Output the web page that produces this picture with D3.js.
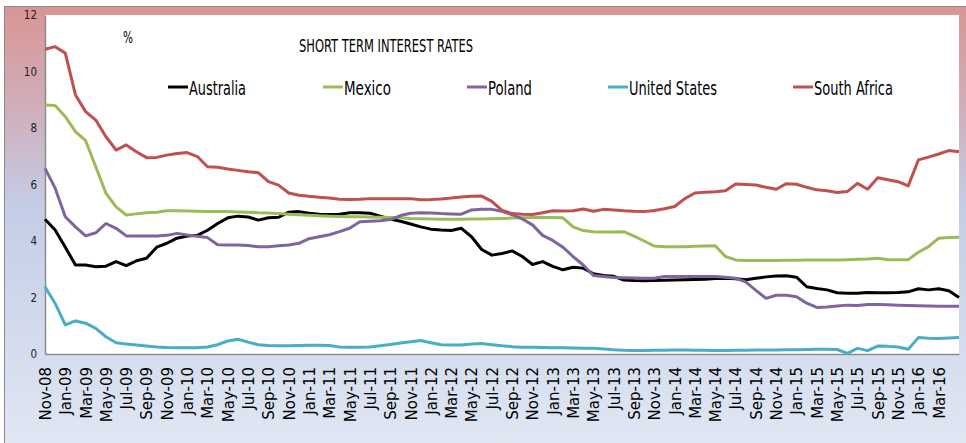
<!DOCTYPE html>
<html>
<head>
<meta charset="utf-8">
<script src="https://cdn.jsdelivr.net/npm/d3@7"></script>
<style>
    html, body { margin: 0; padding: 0; background: #ffffff; }
    svg { display: block; }
</style>
</head>
<body>
<div id="chart"></div>
<script>
// Short term interest rates, monthly Nov-08 .. May-16

const months = [
    'Nov-08', 'Dec-08',
    'Jan-09', 'Feb-09', 'Mar-09', 'Apr-09', 'May-09', 'Jun-09', 'Jul-09', 'Aug-09', 'Sep-09', 'Oct-09', 'Nov-09', 'Dec-09',
    'Jan-10', 'Feb-10', 'Mar-10', 'Apr-10', 'May-10', 'Jun-10', 'Jul-10', 'Aug-10', 'Sep-10', 'Oct-10', 'Nov-10', 'Dec-10',
    'Jan-11', 'Feb-11', 'Mar-11', 'Apr-11', 'May-11', 'Jun-11', 'Jul-11', 'Aug-11', 'Sep-11', 'Oct-11', 'Nov-11', 'Dec-11',
    'Jan-12', 'Feb-12', 'Mar-12', 'Apr-12', 'May-12', 'Jun-12', 'Jul-12', 'Aug-12', 'Sep-12', 'Oct-12', 'Nov-12', 'Dec-12',
    'Jan-13', 'Feb-13', 'Mar-13', 'Apr-13', 'May-13', 'Jun-13', 'Jul-13', 'Aug-13', 'Sep-13', 'Oct-13', 'Nov-13', 'Dec-13',
    'Jan-14', 'Feb-14', 'Mar-14', 'Apr-14', 'May-14', 'Jun-14', 'Jul-14', 'Aug-14', 'Sep-14', 'Oct-14', 'Nov-14', 'Dec-14',
    'Jan-15', 'Feb-15', 'Mar-15', 'Apr-15', 'May-15', 'Jun-15', 'Jul-15', 'Aug-15', 'Sep-15', 'Oct-15', 'Nov-15', 'Dec-15',
    'Jan-16', 'Feb-16', 'Mar-16', 'Apr-16', 'May-16'
];

const australia = [
    4.77, 4.39, 3.78, 3.15, 3.15, 3.09, 3.11, 3.27, 3.13, 3.30,
    3.39, 3.78, 3.92, 4.10, 4.18, 4.20, 4.38, 4.62, 4.82, 4.88,
    4.85, 4.74, 4.82, 4.84, 5.02, 5.04, 4.98, 4.95, 4.94, 4.95,
    5.00, 5.00, 4.98, 4.88, 4.78, 4.70, 4.60, 4.50, 4.42, 4.39,
    4.37, 4.45, 4.15, 3.70, 3.50, 3.56, 3.65, 3.45, 3.17, 3.27,
    3.10, 2.98, 3.07, 3.04, 2.84, 2.78, 2.75, 2.62, 2.60, 2.59,
    2.60, 2.61, 2.62, 2.63, 2.64, 2.65, 2.67, 2.68, 2.66, 2.63,
    2.68, 2.73, 2.76, 2.77, 2.72, 2.38, 2.32, 2.27, 2.17, 2.15,
    2.15, 2.18, 2.17, 2.17, 2.18, 2.20, 2.31, 2.27, 2.31, 2.24,
    2.00
];

const mexico = [
    8.81, 8.80, 8.40, 7.87, 7.55, 6.63, 5.69, 5.21, 4.92, 4.96,
    5.00, 5.02, 5.07, 5.07, 5.06, 5.05, 5.04, 5.04, 5.04, 5.03,
    5.02, 5.00, 4.99, 4.97, 4.95, 4.93, 4.91, 4.89, 4.88, 4.87,
    4.86, 4.86, 4.85, 4.84, 4.83, 4.82, 4.80, 4.79, 4.78, 4.77,
    4.77, 4.77, 4.78, 4.78, 4.79, 4.80, 4.81, 4.82, 4.83, 4.83,
    4.83, 4.82, 4.50, 4.37, 4.33, 4.32, 4.32, 4.33, 4.17, 4.00,
    3.82, 3.80, 3.80, 3.80, 3.81, 3.82, 3.83, 3.45, 3.33, 3.31,
    3.31, 3.31, 3.31, 3.32, 3.32, 3.33, 3.33, 3.33, 3.33, 3.34,
    3.35, 3.36, 3.39, 3.34, 3.34, 3.34, 3.60, 3.80, 4.10, 4.12,
    4.13
];

const poland = [
    6.57, 5.87, 4.86, 4.50, 4.18, 4.29, 4.62, 4.45, 4.18, 4.18,
    4.18, 4.18, 4.20, 4.27, 4.21, 4.17, 4.12, 3.87, 3.86, 3.86,
    3.84, 3.80, 3.80, 3.83, 3.86, 3.92, 4.08, 4.15, 4.22, 4.33,
    4.45, 4.68, 4.70, 4.72, 4.76, 4.90, 4.98, 5.00, 4.99, 4.97,
    4.96, 4.95, 5.10, 5.12, 5.12, 5.05, 4.93, 4.78, 4.57, 4.20,
    4.02, 3.78, 3.45, 3.15, 2.78, 2.74, 2.71, 2.70, 2.69, 2.68,
    2.68, 2.74, 2.74, 2.74, 2.74, 2.74, 2.74, 2.72, 2.68, 2.55,
    2.25, 1.97, 2.08, 2.08, 2.03, 1.80, 1.65, 1.66, 1.70, 1.73,
    1.72, 1.75, 1.75, 1.74, 1.73, 1.72, 1.71, 1.70, 1.69, 1.69,
    1.69
];

const unitedStates = [
    2.38, 1.79, 1.03, 1.17, 1.09, 0.91, 0.61, 0.40, 0.35, 0.32,
    0.28, 0.25, 0.23, 0.22, 0.22, 0.22, 0.25, 0.33, 0.46, 0.52,
    0.42, 0.33, 0.30, 0.29, 0.29, 0.30, 0.31, 0.31, 0.30, 0.25,
    0.24, 0.24, 0.25, 0.29, 0.34, 0.39, 0.43, 0.48, 0.40, 0.33,
    0.32, 0.32, 0.35, 0.37, 0.33, 0.29, 0.26, 0.24, 0.24, 0.23,
    0.22, 0.22, 0.21, 0.20, 0.20, 0.18, 0.15, 0.13, 0.12, 0.12,
    0.13, 0.13, 0.14, 0.14, 0.13, 0.13, 0.12, 0.12, 0.13, 0.13,
    0.14, 0.14, 0.14, 0.15, 0.15, 0.16, 0.17, 0.17, 0.16, 0.02,
    0.20, 0.12, 0.28, 0.27, 0.25, 0.17, 0.58, 0.56, 0.55, 0.57,
    0.58
];

const southAfrica = [
    10.79, 10.88, 10.65, 9.17, 8.58, 8.28, 7.69, 7.22, 7.40, 7.16,
    6.95, 6.96, 7.04, 7.10, 7.13, 6.99, 6.63, 6.61, 6.55, 6.50,
    6.45, 6.42, 6.10, 5.98, 5.70, 5.62, 5.58, 5.55, 5.52, 5.48,
    5.47, 5.48, 5.50, 5.50, 5.50, 5.50, 5.50, 5.46, 5.47, 5.49,
    5.52, 5.56, 5.58, 5.59, 5.40, 5.08, 4.97, 4.95, 4.94, 5.00,
    5.07, 5.06, 5.07, 5.13, 5.05, 5.12, 5.10, 5.07, 5.05, 5.04,
    5.08, 5.14, 5.22, 5.50, 5.70, 5.73, 5.74, 5.78, 6.02, 6.00,
    5.98, 5.90, 5.83, 6.03, 6.01, 5.90, 5.81, 5.78, 5.72, 5.75,
    6.04, 5.83, 6.24, 6.17, 6.10, 5.95, 6.87, 6.97, 7.08, 7.20,
    7.16
];

const seriesNames = ['Australia', 'Mexico', 'Poland', 'United States', 'South Africa'];
const seriesColors = ['#000000', '#9bbb59', '#8064a2', '#4bacc6', '#c0504d'];
const yTicks = [0, 2, 4, 6, 8, 10, 12];
// every second month is labelled, the last label shown is Mar-16
const xTickLabels = months.slice(0, 89).filter((m, i) => i % 2 === 0);

/**
 * Draw the interest rate chart
 * @param {string} containerId - Container element ID
 */
function renderRatesChart(containerId) {
    const W = 966;
    const H = 443;
    const plot = { left: 45, top: 15, right: 959, bottom: 354 };
    const axisColor = '#8c8c8c';

    const svg = d3.select(`#${containerId}`)
        .append('svg')
        .attr('width', W)
        .attr('height', H);

    // Background gradient of the chart frame
    const grad = svg.append('defs')
        .append('linearGradient')
        .attr('id', 'frameGrad')
        .attr('x1', 0).attr('y1', 0)
        .attr('x2', 0).attr('y2', 1);
    [['0%', '#d99594'], ['22%', '#d0adb9'], ['45%', '#c4cde6'], ['100%', '#e1e7f3']]
        .forEach(s => grad.append('stop').attr('offset', s[0]).attr('stop-color', s[1]));

    svg.append('rect')
        .attr('x', 4.5)
        .attr('y', 6.5)
        .attr('width', W)
        .attr('height', H)
        .attr('fill', 'url(#frameGrad)')
        .attr('stroke', '#8a8a8a')
        .attr('stroke-width', 1);

    // Plot area
    svg.append('rect')
        .attr('x', plot.left)
        .attr('y', plot.top)
        .attr('width', plot.right - plot.left)
        .attr('height', plot.bottom - plot.top)
        .attr('fill', '#ffffff');

    // Scales
    const xScale = d3.scalePoint()
        .domain(months)
        .range([plot.left, plot.right]);

    const yScale = d3.scaleLinear()
        .domain([0, 12])
        .range([plot.bottom, plot.top]);

    // Y axis
    const yAxis = svg.append('g')
        .attr('transform', `translate(${plot.left}, 0)`)
        .call(d3.axisLeft(yScale)
            .tickValues(yTicks)
            .tickSize(0)
            .tickPadding(8)
        );
    yAxis.select('.domain')
        .attr('stroke', axisColor)
        .attr('stroke-width', 1.5);
    yAxis.selectAll('text')
        .attr('fill', '#222')
        .style('font-family', '"Liberation Sans Narrow", "DejaVu Sans Condensed", sans-serif')
        .style('font-size', '11.5px');

    // X axis
    const xAxis = svg.append('g')
        .attr('transform', `translate(0, ${plot.bottom})`)
        .call(d3.axisBottom(xScale)
            .tickValues(xTickLabels)
            .tickSize(0)
        );
    xAxis.select('.domain')
        .attr('stroke', axisColor)
        .attr('stroke-width', 1.5);
    xAxis.selectAll('text')
        .attr('transform', 'rotate(-90)')
        .attr('x', -13)
        .attr('y', 0)
        .attr('dy', '0.36em')
        .style('text-anchor', 'end')
        .attr('fill', '#000')
        .style('font-family', '"DejaVu Sans", Verdana, sans-serif')
        .style('font-size', '15px');

    // Series lines
    const allSeries = [australia, mexico, poland, unitedStates, southAfrica];
    const line = d3.line()
        .x((d, i) => xScale(months[i]))
        .y(d => yScale(d));

    allSeries.forEach((values, k) => {
        svg.append('path')
            .datum(values)
            .attr('fill', 'none')
            .attr('stroke', seriesColors[k])
            .attr('stroke-width', 3)
            .attr('stroke-linejoin', 'round')
            .attr('d', line);
    });

    // Title and unit
    const narrow = '"Liberation Sans Narrow", "DejaVu Sans Condensed", sans-serif';

    svg.append('text')
        .attr('x', 299)
        .attr('y', 52)
        .attr('textLength', 174)
        .attr('lengthAdjust', 'spacingAndGlyphs')
        .attr('fill', '#000')
        .style('font-family', narrow)
        .style('font-size', '18px')
        .text('SHORT TERM INTEREST RATES');

    svg.append('text')
        .attr('x', 123)
        .attr('y', 43)
        .attr('textLength', 10)
        .attr('lengthAdjust', 'spacingAndGlyphs')
        .attr('fill', '#000')
        .style('font-family', narrow)
        .style('font-size', '16px')
        .text('%');

    // Legend
    const legendX = [168, 323, 467, 608, 793];
    const legendTextWidth = [57, 47, 44, 88, 79];
    const legendY = 87;

    const legend = svg.append('g').attr('class', 'legend');

    seriesNames.forEach((name, k) => {
        legend.append('line')
            .attr('x1', legendX[k])
            .attr('x2', legendX[k] + 20)
            .attr('y1', legendY)
            .attr('y2', legendY)
            .attr('stroke', seriesColors[k])
            .attr('stroke-width', 3);

        legend.append('text')
            .attr('x', legendX[k] + 21)
            .attr('y', legendY + 8)
            .attr('textLength', legendTextWidth[k])
            .attr('lengthAdjust', 'spacingAndGlyphs')
            .attr('fill', '#000')
            .style('font-family', narrow)
            .style('font-size', '20px')
            .text(name);
    });
}

renderRatesChart('chart');
</script>
</body>
</html>
